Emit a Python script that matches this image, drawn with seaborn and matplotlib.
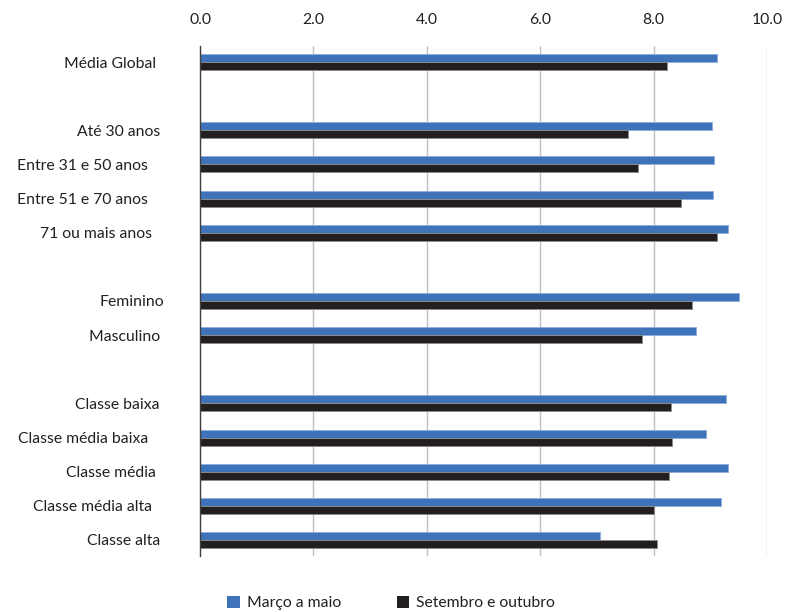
import numpy as np
import pandas as pd
import matplotlib
matplotlib.use("Agg")
import matplotlib.pyplot as plt
import seaborn as sns
from matplotlib.patches import Patch

# ---- data ----
categories = ["Média Global", "Até 30 anos", "Entre 31 e 50 anos", "Entre 51 e 70 anos",
              "71 ou mais anos", "Feminino", "Masculino", "Classe baixa",
              "Classe média baixa", "Classe média", "Classe média alta", "Classe alta"]
marco_maio = [9.11, 9.03, 9.06, 9.05, 9.32, 9.51, 8.75, 9.27, 8.93, 9.32, 9.18, 7.06]
set_out = [8.23, 7.54, 7.73, 8.49, 9.11, 8.68, 7.80, 8.31, 8.33, 8.28, 8.01, 8.06]
series_names = ["Março a maio", "Setembro e outubro"]
# display order, with blank spacer rows between groups
order = ["Média Global", "_gap1", "Até 30 anos", "Entre 31 e 50 anos", "Entre 51 e 70 anos",
         "71 ou mais anos", "_gap2", "Feminino", "Masculino", "_gap3", "Classe baixa",
         "Classe média baixa", "Classe média", "Classe média alta", "Classe alta"]
# tick label text (trailing spaces mimic the ragged alignment of the original)
tick_text = {"Média Global": "Média Global  ", "Até 30 anos": "Até 30 anos ",
             "Entre 31 e 50 anos": "Entre 31 e 50 anos    ",
             "Entre 51 e 70 anos": "Entre 51 e 70 anos    ",
             "71 ou mais anos": "71 ou mais anos   ", "Feminino": "Feminino",
             "Masculino": "Masculino ", "Classe baixa": "Classe baixa ",
             "Classe média baixa": "Classe média baixa    ",
             "Classe média": "Classe média  ", "Classe média alta": "Classe média alta   ",
             "Classe alta": "Classe alta "}
xticks = [0, 2, 4, 6, 8, 10]

colors = ["#3E72B9", "#231F20"]
edge_colors = ["#8FAEDB", "#8a8a8a"]
text_color = "#231F20"
fs = 11.3

df = pd.DataFrame({
    "cat": categories * 2,
    "val": marco_maio + set_out,
    "serie": [series_names[0]] * len(categories) + [series_names[1]] * len(categories),
})

sns.set_theme(style="white")
plt.rcParams["font.family"] = ["Lato", "DejaVu Sans"]

fig = plt.figure(figsize=(7.85, 6.12), dpi=100)
ax = fig.add_axes([200 / 785, 1 - 556 / 612, (767 - 200) / 785, (556 - 46) / 612])

sns.barplot(data=df, x="val", y="cat", hue="serie", order=order, hue_order=series_names,
            palette=colors, orient="h", width=0.47, ax=ax, legend=False,
            saturation=1, errorbar=None)

for i, cont in enumerate(ax.containers):
    for p in cont:
        p.set_edgecolor(edge_colors[i])
        p.set_linewidth(0.7)

ax.set_xlim(0, 10)
ax.set_ylim(len(order) - 1 + 0.47, -0.47)
ax.set_xticks(xticks)
ax.set_xticklabels([f"{t:.1f}" for t in xticks])
ax.set_xlabel("")
ax.set_ylabel("")

ax.set_yticks(range(len(order)))
ax.set_yticklabels([tick_text.get(c, "") for c in order])

ax.xaxis.grid(True, color="#BFBFBF", linewidth=1)
ax.yaxis.grid(False)
ax.set_axisbelow(True)
for s in ["top", "right", "bottom"]:
    ax.spines[s].set_visible(False)
ax.spines["left"].set_color("#404040")
ax.spines["left"].set_linewidth(1.0)

ax.tick_params(axis="x", top=False, bottom=False, labeltop=True, labelbottom=False,
               length=0, pad=14, labelsize=fs, labelcolor=text_color)
for t in ax.xaxis.get_major_ticks():
    t.label1.set_visible(False)
    t.label2.set_visible(True)
ax.tick_params(axis="y", left=False, length=0, pad=26, labelsize=fs, labelcolor=text_color)

handles = [Patch(facecolor=c, edgecolor="none") for c in colors]
fig.legend(handles, series_names, loc="center", bbox_to_anchor=(391 / 785, 1 - 603 / 612),
           ncol=2, frameon=False, fontsize=fs, handlelength=0.8, handleheight=0.8,
           handletextpad=0.45, columnspacing=3.55, labelcolor=text_color)

fig.savefig("out.png", dpi=100)
